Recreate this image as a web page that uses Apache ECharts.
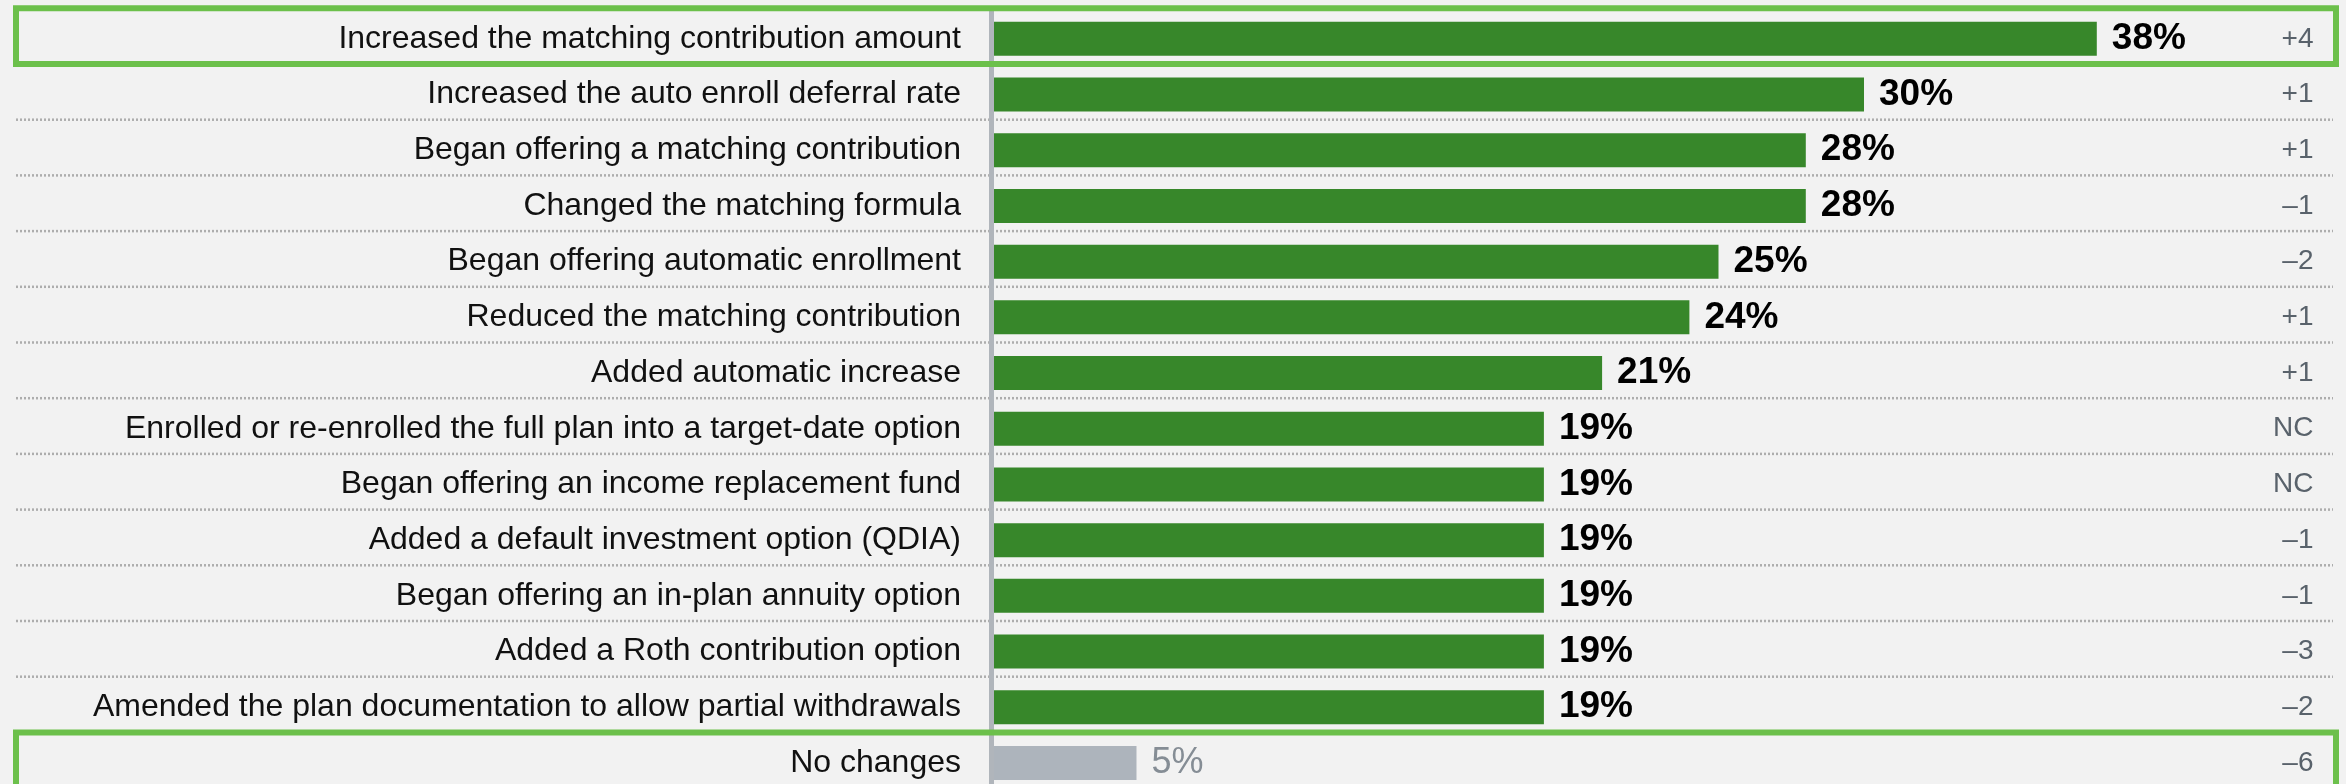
<!DOCTYPE html>
<html>
<head>
<meta charset="utf-8">
<title>Plan design changes</title>
<script src="https://cdn.jsdelivr.net/npm/echarts@6/dist/echarts.min.js"></script>
<style>
  html, body { margin: 0; padding: 0; background: #f2f2f2; }
  #chart { width: 2346px; height: 784px; }
</style>
</head>
<body>
<div id="chart"></div>
<script>
// Plan changes made, share of sponsors (%)
const categories = [
  'Increased the matching contribution amount',
  'Increased the auto enroll deferral rate',
  'Began offering a matching contribution',
  'Changed the matching formula',
  'Began offering automatic enrollment',
  'Reduced the matching contribution',
  'Added automatic increase',
  'Enrolled or re-enrolled the full plan into a target-date option',
  'Began offering an income replacement fund',
  'Added a default investment option (QDIA)',
  'Began offering an in-plan annuity option',
  'Added a Roth contribution option',
  'Amended the plan documentation to allow partial withdrawals',
  'No changes'
];
const shares = [38, 30, 28, 28, 25, 24, 21, 19, 19, 19, 19, 19, 19, 5];
// Change versus the prior survey (percentage points)
const changes = ['+4', '+1', '+1', '\u20131', '\u20132', '+1', '+1', 'NC', 'NC', '\u20131', '\u20131', '\u20133', '\u20132', '\u20136'];
// Rows framed by an outline
const framedRows = ['Increased the matching contribution amount', 'No changes'];
const mutedRows = ['No changes'];

const FONT = '"Liberation Sans", Arial, Helvetica, sans-serif';
const GREEN = '#37872a';
const GREY_BAR = '#adb4bc';
const FRAME = '#6cc04b';
const ROW_SHIFT = -2.7;      // separators sit a little above the band edge
const LINE_LEFT = 16;
const LINE_RIGHT = 2333;
const FRAME_RIGHT = 2336;

const chart = echarts.init(document.getElementById('chart'), null, { renderer: 'canvas' });

const barData = shares.map((v, i) => {
  const muted = mutedRows.includes(categories[i]);
  return {
    value: v,
    itemStyle: { color: muted ? GREY_BAR : GREEN },
    label: muted
      ? { fontWeight: 'normal', color: '#858d95', fontSize: 36 }
      : { fontWeight: 'bold', color: '#000', fontSize: 37 }
  };
});

// separator between row i and row i+1
const separatorData = categories.slice(0, -1).map((c, i) => [0, i]);
const frameData = categories.map((c, i) => [0, i]).filter(d => framedRows.includes(categories[d[1]]));

function bandEdges(api, idx) {
  const center = api.coord([0, idx])[1];
  const band = api.size([0, 1])[1];
  return { top: center - band / 2 + ROW_SHIFT, bottom: center + band / 2 + ROW_SHIFT };
}

chart.setOption({
  backgroundColor: '#f2f2f2',
  animation: false,
  grid: {
    left: 991, top: 11, width: 1309.5, height: 779.8,
    containLabel: false,
    outerBoundsMode: 'none'
  },
  xAxis: {
    type: 'value', min: 0, max: 45,
    show: false
  },
  yAxis: [
    {
      type: 'category',
      data: categories,
      inverse: true,
      offset: 3,
      z: 3,
      axisLine: { show: true, lineStyle: { color: '#b0b5bb', width: 5 } },
      axisTick: { show: false },
      splitLine: { show: false },
      axisLabel: {
        margin: 27,
        fontSize: 32,
        color: '#111111',
        fontFamily: FONT
      }
    },
    {
      type: 'category',
      data: categories,
      inverse: true,
      position: 'right',
      axisLine: { show: false },
      axisTick: { show: false },
      splitLine: { show: false },
      axisLabel: {
        margin: 13,
        align: 'right',
        fontSize: 28,
        color: '#59626b',
        fontFamily: FONT,
        formatter: (v) => changes[categories.indexOf(v)]
      }
    }
  ],
  series: [
    {
      type: 'custom',
      name: 'separators',
      z: 1,
      silent: true,
      coordinateSystem: 'cartesian2d',
      encode: { x: 0, y: 1 },
      data: separatorData,
      renderItem: (params, api) => {
        const e = bandEdges(api, api.value(1));
        return {
          type: 'line',
          shape: { x1: LINE_LEFT, y1: e.bottom, x2: LINE_RIGHT, y2: e.bottom },
          style: { stroke: '#adadad', lineWidth: 2.5, lineDash: [2, 2] }
        };
      }
    },
    {
      type: 'bar',
      name: 'share',
      z: 2,
      data: barData,
      barWidth: 34,
      label: {
        show: true,
        position: 'right',
        distance: 15,
        fontFamily: FONT,
        formatter: '{c}%'
      }
    },
    {
      type: 'custom',
      name: 'frames',
      z: 10,
      silent: true,
      coordinateSystem: 'cartesian2d',
      encode: { x: 0, y: 1 },
      data: frameData,
      renderItem: (params, api) => {
        const e = bandEdges(api, api.value(1));
        return {
          type: 'rect',
          shape: { x: LINE_LEFT, y: e.top, width: FRAME_RIGHT - LINE_LEFT, height: e.bottom - e.top },
          style: { fill: 'none', stroke: FRAME, lineWidth: 6 }
        };
      }
    }
  ]
});
</script>
</body>
</html>
